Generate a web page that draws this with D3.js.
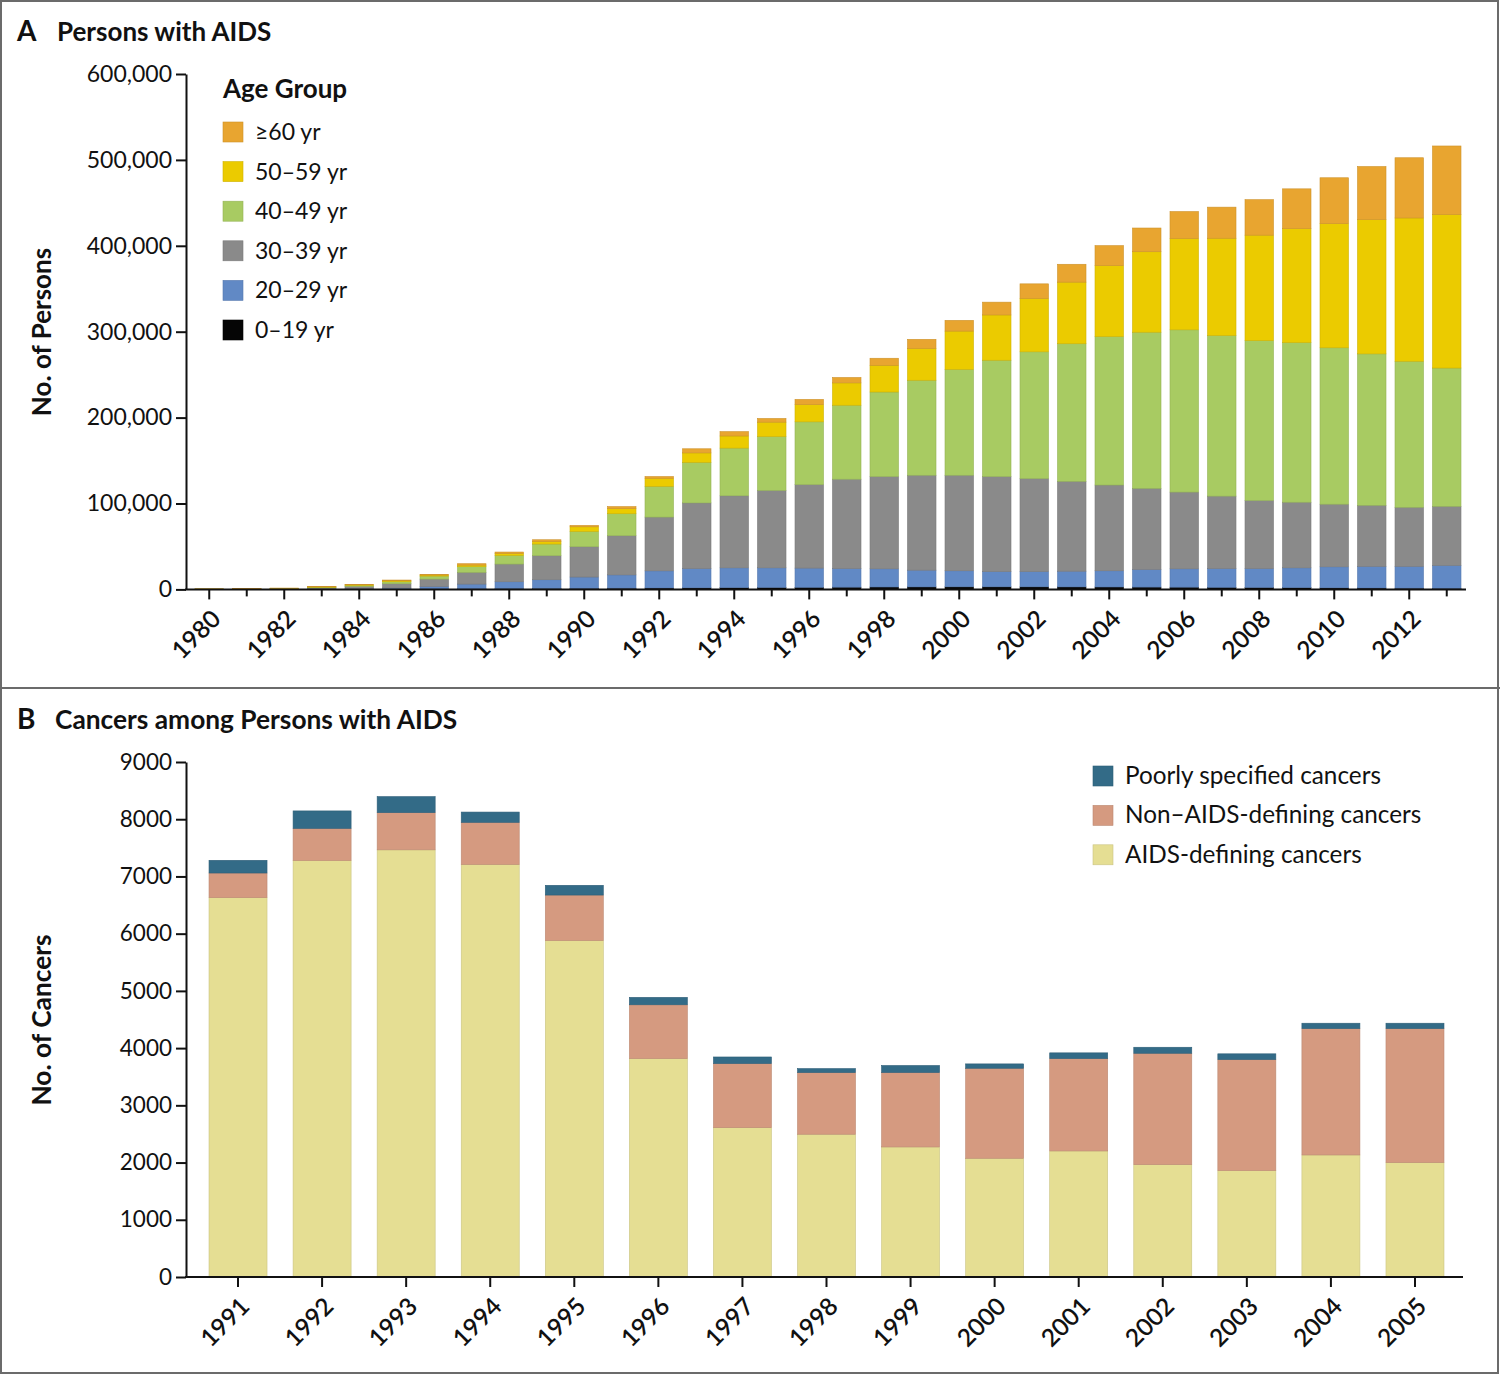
<!DOCTYPE html>
<html><head><meta charset="utf-8">
<script src="https://cdn.jsdelivr.net/npm/d3@7"></script>
<style>
body{margin:0;background:#fff;}
svg text{font-family:Lato,"Open Sans",sans-serif;fill:#111;}
</style></head>
<body><svg id="c" width="1500" height="1375"></svg>
<script>
// ---------- Panel A data ----------
const yearsA = [1980,1981,1982,1983,1984,1985,1986,1987,1988,1989,1990,1991,1992,1993,1994,1995,1996,1997,1998,1999,2000,2001,2002,2003,2004,2005,2006,2007,2008,2009,2010,2011,2012,2013];
const age0_19  = [10,15,30,60,120,250,400,600,800,1000,1200,1400,1600,1800,2000,2200,2400,2600,2800,2900,3000,3000,3000,2900,2800,2700,2600,2400,2200,2000,1800,1600,1400,1200];
const age20_29 = [50,85,220,340,680,1300,3100,5600,8100,10250,13200,15500,20000,22500,23100,22900,22400,21700,21200,19500,18700,17800,17800,18300,18900,20500,21400,21900,22100,23100,24500,25200,25400,26700];
const age30_39 = [240,350,550,1400,2700,5050,8500,13600,20600,27950,35300,45600,62600,76400,83900,90100,97200,104000,107400,110500,111200,110600,108200,104600,99800,94400,89300,84300,79200,76400,72900,71100,68800,68800];
const age40_49 = [130,200,350,800,1200,2300,3500,6600,10100,13600,17800,25600,35800,47200,55500,62700,73100,86100,98400,110600,123200,135400,147600,160200,172800,181800,188900,186900,186100,185800,182100,176300,170000,161000];
const age50_59 = [100,150,200,500,700,1200,1200,1900,2300,3100,5400,5900,9400,11000,14100,16800,20100,26000,31100,37000,44600,52700,62100,71700,82600,93700,106200,113300,122800,132600,144500,156200,166800,178700];
const age60p   = [70,100,150,400,400,800,800,1600,1600,1900,1600,2400,2000,4800,5100,4300,6000,6300,8200,10600,12500,14900,17000,20800,23300,27600,31500,36200,41300,46400,53400,61900,70100,79800];
const ageLabels = ["0\u201319 yr","20\u201329 yr","30\u201339 yr","40\u201349 yr","50\u201359 yr","\u226560 yr"];
const ageColors = ["#050505","#6189C5","#8A8A8A","#A8CB62","#EBCB00","#E8A530"];
const ticksA = [0,100000,200000,300000,400000,500000,600000];

// ---------- Panel B data ----------
const yearsB = [1991,1992,1993,1994,1995,1996,1997,1998,1999,2000,2001,2002,2003,2004,2005];
const aidsDefining = [6630,7280,7465,7210,5880,3817,2610,2495,2273,2075,2203,1964,1860,2133,2000];
const nonAidsDefining = [430,560,650,735,795,940,1120,1077,1300,1573,1614,1946,1940,2208,2341];
const poorlySpecified = [222,305,280,180,170,130,115,70,123,76,100,105,100,94,94];
const cancerLabels = ["AIDS-defining cancers","Non\u2013AIDS-defining cancers","Poorly specified cancers"];
const cancerColors = ["#E5DE93","#D59A80","#336B87"];
const ticksB = [0,1000,2000,3000,4000,5000,6000,7000,8000,9000];

const svg = d3.select("#c");
svg.append("rect").attr("x",0).attr("y",0).attr("width",1500).attr("height",1375).attr("fill","#fff");

function darker(c){ return d3.color(c).darker(0.35).formatHex(); }

// ================= Panel A =================
{
  const g = svg.append("g");
  const keys = ["a0","a20","a30","a40","a50","a60"];
  const rows = yearsA.map((y,i)=>({year:y,a0:age0_19[i],a20:age20_29[i],a30:age30_39[i],a40:age40_49[i],a50:age50_59[i],a60:age60p[i]}));
  const series = d3.stack().keys(keys)(rows);
  const x = d3.scaleBand().domain(yearsA).range([190.5,1465.5]).paddingInner(0.24).paddingOuter(0.12);
  const y = d3.scaleLinear().domain([0,600000]).range([589.4,74]);

  g.selectAll("g.s").data(series).join("g").attr("class","s")
    .attr("fill",(d,i)=>ageColors[i]).attr("stroke",(d,i)=>darker(ageColors[i])).attr("stroke-width",0.6)
    .selectAll("rect").data(d=>d).join("rect")
    .attr("x",d=>x(d.data.year)).attr("width",x.bandwidth())
    .attr("y",d=>y(d[1])).attr("height",d=>Math.max(0,y(d[0])-y(d[1])));

  // y axis
  const ya = g.append("g").attr("transform","translate(186,0)")
    .call(d3.axisLeft(y).tickValues(ticksA).tickFormat(d3.format(",")).tickSize(10).tickSizeOuter(0).tickPadding(4));
  ya.select(".domain").attr("stroke","#111").attr("stroke-width",2);
  ya.selectAll(".tick line").attr("stroke","#111").attr("stroke-width",2);
  ya.selectAll(".tick text").attr("font-size",23).attr("font-family","Lato").attr("fill","#111");

  // x axis
  const xa = g.append("g").attr("transform","translate(0,589.4)")
    .call(d3.axisBottom(x).tickValues(yearsA).tickFormat(d=> d%2===0 ? d : "").tickSize(10).tickSizeOuter(0));
  xa.select(".domain").remove();
  xa.append("line").attr("x1",185).attr("x2",1466).attr("y1",0).attr("y2",0).attr("stroke","#111").attr("stroke-width",2);
  xa.selectAll(".tick line").attr("stroke","#111").attr("stroke-width",2).attr("y2",d=> d%2===0 ? 10 : 7);
  xa.selectAll(".tick text").attr("font-size",24.5).attr("font-family","Lato").attr("font-weight",600).attr("fill","#111")
    .attr("text-anchor","end").attr("dy",0).attr("y",0)
    .attr("transform","translate(13,31) rotate(-45)");

  // titles
  g.append("text").attr("x",17).attr("y",41).attr("font-size",28).attr("font-weight",700).text("A");
  g.append("text").attr("x",57).attr("y",41).attr("font-size",26).attr("font-weight",700).text("Persons with AIDS");
  g.append("text").attr("transform","translate(51,332) rotate(-90)").attr("text-anchor","middle")
    .attr("font-size",26).attr("font-weight",700).text("No. of Persons");

  // legend
  const lg = g.append("g");
  lg.append("text").attr("x",223).attr("y",98).attr("font-size",26).attr("font-weight",700).text("Age Group");
  const order = [5,4,3,2,1,0];
  order.forEach((k,j)=>{
    const cy = 132 + j*39.6;
    lg.append("rect").attr("x",223).attr("y",cy-10).attr("width",20).attr("height",20)
      .attr("fill",ageColors[k]).attr("stroke",darker(ageColors[k])).attr("stroke-width",0.6);
    lg.append("text").attr("x",255).attr("y",cy+8).attr("font-size",23).text(ageLabels[k]);
  });
}

// ================= Panel B =================
{
  const g = svg.append("g");
  const keys = ["aids","non","poor"];
  const rows = yearsB.map((y,i)=>({year:y,aids:aidsDefining[i],non:nonAidsDefining[i],poor:poorlySpecified[i]}));
  const series = d3.stack().keys(keys)(rows);
  const x = d3.scaleBand().domain(yearsB).range([188,1465]).paddingInner(0.31).paddingOuter(0.25);
  const y = d3.scaleLinear().domain([0,9000]).range([1277,762]);

  g.selectAll("g.s").data(series).join("g").attr("class","s")
    .attr("fill",(d,i)=>cancerColors[i]).attr("stroke",(d,i)=>darker(cancerColors[i])).attr("stroke-width",0.6)
    .selectAll("rect").data(d=>d).join("rect")
    .attr("x",d=>x(d.data.year)).attr("width",x.bandwidth())
    .attr("y",d=>y(d[1])).attr("height",d=>Math.max(0,y(d[0])-y(d[1])));

  const ya = g.append("g").attr("transform","translate(186,0)")
    .call(d3.axisLeft(y).tickValues(ticksB).tickFormat(d3.format("d")).tickSize(10).tickSizeOuter(0).tickPadding(4));
  ya.select(".domain").attr("stroke","#111").attr("stroke-width",2);
  ya.selectAll(".tick line").attr("stroke","#111").attr("stroke-width",2);
  ya.selectAll(".tick text").attr("font-size",22.5).attr("fill","#111");

  const xa = g.append("g").attr("transform","translate(0,1277)")
    .call(d3.axisBottom(x).tickSize(10).tickSizeOuter(0));
  xa.select(".domain").remove();
  xa.append("line").attr("x1",185).attr("x2",1463).attr("y1",0).attr("y2",0).attr("stroke","#111").attr("stroke-width",2);
  xa.selectAll(".tick line").attr("stroke","#111").attr("stroke-width",2);
  xa.selectAll(".tick text").attr("font-size",24.5).attr("font-weight",600).attr("fill","#111")
    .attr("text-anchor","end").attr("dy",0).attr("y",0)
    .attr("transform","translate(13,31) rotate(-45)");

  g.append("text").attr("x",17).attr("y",729).attr("font-size",28).attr("font-weight",700).text("B");
  g.append("text").attr("x",55).attr("y",729).attr("font-size",26.3).attr("font-weight",700).text("Cancers among Persons with AIDS");
  g.append("text").attr("transform","translate(51,1020) rotate(-90)").attr("text-anchor","middle")
    .attr("font-size",26.3).attr("font-weight",700).text("No. of Cancers");

  const order = [2,1,0];
  order.forEach((k,j)=>{
    const cy = 776 + j*39.4;
    g.append("rect").attr("x",1093).attr("y",cy-10).attr("width",20).attr("height",20)
      .attr("fill",cancerColors[k]).attr("stroke",darker(cancerColors[k])).attr("stroke-width",0.6);
    g.append("text").attr("x",1125).attr("y",cy+8).attr("font-size",24.3).text(cancerLabels[k]);
  });
}

// frame
svg.append("rect").attr("x",1).attr("y",1).attr("width",1497).attr("height",1372).attr("fill","none").attr("stroke","#6b6b6b").attr("stroke-width",2);
svg.append("line").attr("x1",0).attr("x2",1500).attr("y1",688).attr("y2",688).attr("stroke","#6b6b6b").attr("stroke-width",2);
</script></body></html>
